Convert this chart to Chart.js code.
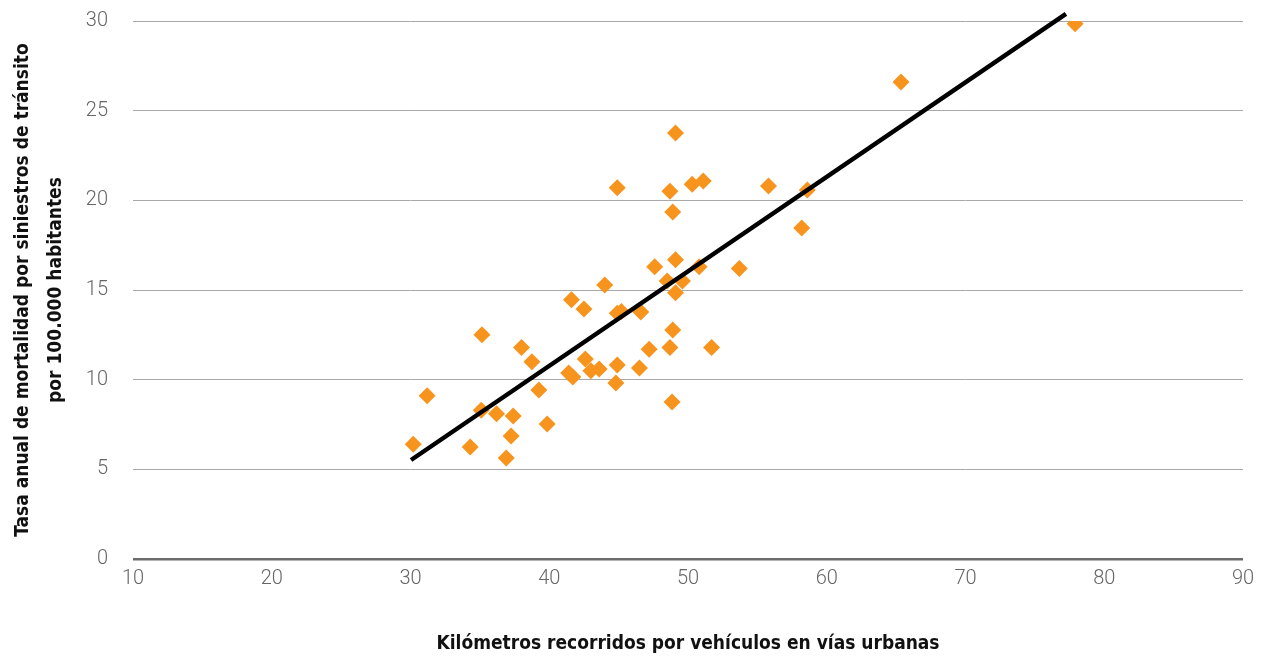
<!DOCTYPE html>
<html lang="es">
<head>
  <meta charset="UTF-8" />
  <script src="https://cdn.jsdelivr.net/npm/chart.js"></script>
  <title>Kilómetros recorridos y mortalidad vial</title>
  <style>
    body { margin: 0; background: #fff; }
    #wrap { width: 1266px; height: 657px; }
  </style>
</head>
<body>
  <div id="wrap">
    <canvas id="grafico" width="1266" height="657"></canvas>
  </div>
  <script>
    // Datos
    const kmRecorridos = [
      30.2, 31.2, 34.3, 35.15, 35.1, 36.2, 36.9, 37.25, 37.4, 38.0,
      38.75, 39.25, 39.85, 41.4, 41.6, 41.7, 42.5, 42.6, 43.0, 43.6,
      44.0, 44.8, 44.9, 44.9, 45.2, 44.9, 46.5, 46.6, 47.2, 47.6,
      48.5, 48.7, 48.7, 48.85, 48.9, 48.9, 49.1, 49.1, 49.1, 49.6,
      50.3, 50.8, 51.1, 51.7, 53.7, 55.8, 58.2, 58.6, 65.35, 77.9
    ];
    const tasaMortalidad = [
      6.4, 9.1, 6.25, 12.5, 8.3, 8.1, 5.63, 6.86, 7.98, 11.8,
      11.0, 9.43, 7.53, 10.37, 14.45, 10.15, 13.94, 11.15, 10.5, 10.6,
      15.28, 9.82, 10.82, 13.7, 13.8, 20.7, 10.65, 13.78, 11.7, 16.3,
      15.5, 20.5, 11.8, 8.76, 19.35, 12.77, 23.76, 16.68, 14.84, 15.5,
      20.9, 16.3, 21.08, 11.8, 16.2, 20.8, 18.46, 20.58, 26.6, 29.84
    ];
    // extremos de la linea de tendencia
    const tendenciaX = [30.04, 77.24];
    const tendenciaY = [5.52, 30.4];

    const tituloX = 'Kilómetros recorridos por vehículos en vías urbanas';
    const tituloY = ['Tasa anual de mortalidad por siniestros de tránsito', 'por 100.000 habitantes'];

    const fuenteTitulo = "'DejaVu Sans Condensed', 'Liberation Sans Narrow', sans-serif";
    const fuenteTicks = "'Roboto', 'DejaVu Sans Condensed', sans-serif";

    const puntos = kmRecorridos.map((x, i) => ({ x: x, y: tasaMortalidad[i] }));
    const linea = tendenciaX.map((x, i) => ({ x: x, y: tendenciaY[i] }));

    const ctx = document.getElementById('grafico').getContext('2d');
    new Chart(ctx, {
      type: 'scatter',
      data: {
        datasets: [
          {
            type: 'line',
            data: linea,
            borderColor: '#000',
            borderWidth: 4.5,
            pointRadius: 0,
            fill: false,
            clip: false,
            order: 0
          },
          {
            data: puntos,
            pointStyle: 'rectRot',
            pointRadius: 8.5,
            pointHoverRadius: 8.5,
            backgroundColor: '#F7941D',
            borderColor: '#F7941D',
            borderWidth: 0,
            order: 1
          }
        ]
      },
      options: {
        responsive: false,
        animation: false,
        layout: { padding: { top: 21, right: 23, bottom: 0, left: 0 } },
        plugins: {
          legend: { display: false },
          tooltip: { enabled: false }
        },
        scales: {
          x: {
            type: 'linear',
            min: 10,
            max: 90,
            border: { display: false },
            grid: { display: false, drawTicks: false },
            ticks: {
              stepSize: 10,
              padding: 8,
              color: '#666',
              font: { family: fuenteTicks, size: 20, weight: '300' }
            },
            title: {
              display: true,
              text: tituloX,
              color: '#111',
              padding: { top: 0, bottom: 2 },
              font: { family: fuenteTitulo, size: 19, weight: 'bold', lineHeight: 1.2 }
            },
            afterFit: scale => { scale.height = 98; }
          },
          y: {
            type: 'linear',
            min: 0,
            max: 30,
            border: { display: false },
            grid: {
              drawTicks: false,
              color: c => c.tick && c.tick.value === 0 ? '#6b6b6b' : '#a8a8a8',
              lineWidth: c => c.tick && c.tick.value === 0 ? 2.5 : 1
            },
            ticks: {
              stepSize: 5,
              padding: 25,
              color: '#666',
              font: { family: fuenteTicks, size: 20, weight: '300' }
            },
            title: {
              display: true,
              text: tituloY,
              color: '#111',
              padding: { top: 6, bottom: 0 },
              font: { family: fuenteTitulo, size: 19, weight: 'bold', lineHeight: 1.75 }
            },
            afterFit: scale => {
              scale.width = 133;
              scale.paddingTop = 0;
              scale.paddingBottom = 0;
            }
          }
        }
      }
    });
  </script>
</body>
</html>
